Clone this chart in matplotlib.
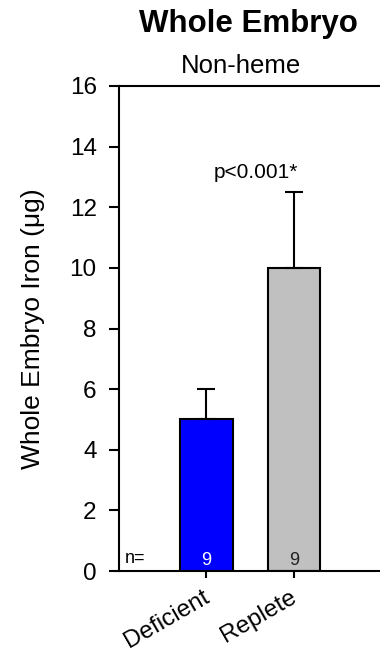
import matplotlib
matplotlib.use("Agg")
import matplotlib.pyplot as plt
import matplotlib.transforms as mtransforms

plt.rcParams['font.family'] = ['Liberation Sans', 'DejaVu Sans']

groups = ['Deficient', 'Replete']
means = [5.0, 10.0]
errs = [1.0, 2.5]
counts = [9, 9]
colors = ['#0000ff', '#c0c0c0']
count_colors = ['white', '#222222']

fig = plt.figure(figsize=(3.80, 6.59), dpi=100)
ax = fig.add_axes([0.313, 0.1335, 0.69, 0.736])

x = list(range(len(groups)))
ax.bar(x, means, width=0.6, color=colors, edgecolor='black', linewidth=1.5, zorder=2)
ax.errorbar(x, means, yerr=[[0, 0], errs], fmt='none', ecolor='black',
            elinewidth=1.5, capsize=6.5, capthick=1.5, zorder=3)

for xi, n, c in zip(x, counts, count_colors):
    ax.text(xi, 0.2, str(n), ha='center', va='baseline', fontsize=13, color=c)
ax.text(-0.93, 0.25, 'n=', ha='left', va='baseline', fontsize=13)

ax.text(0.566, 12.95, 'p<0.001*', ha='center', va='baseline', fontsize=15)

ax.set_xlim(-1.0, 2.0)
ax.set_ylim(0, 16)
ax.set_yticks(range(0, 17, 2))
ax.set_xticks(x)
ax.set_xticklabels(groups, rotation=30, ha='right', rotation_mode='anchor', fontsize=17.5)
ax.tick_params(axis='y', labelsize=17.5, length=7, width=1.5, direction='out', pad=9)
ax.tick_params(axis='x', length=5, width=1.5, direction='out', pad=6)

# nudge rotated group labels a little to the left
shift = mtransforms.ScaledTranslation(-4 / 100, 0, fig.dpi_scale_trans)
for lab in ax.get_xticklabels():
    lab.set_transform(lab.get_transform() + shift)

for side in ['left', 'top', 'bottom']:
    ax.spines[side].set_linewidth(1.5)
ax.spines['right'].set_visible(False)

ax.set_ylabel('Whole Embryo Iron (μg)', fontsize=19, labelpad=18)
ax.set_title('Non-heme', fontsize=18.5, pad=9.4, x=0.466)
fig.text(0.655, 0.963, 'Whole Embryo', ha='center', va='center', fontsize=22.5, fontweight='bold')

fig.savefig('out.png', dpi=100)
